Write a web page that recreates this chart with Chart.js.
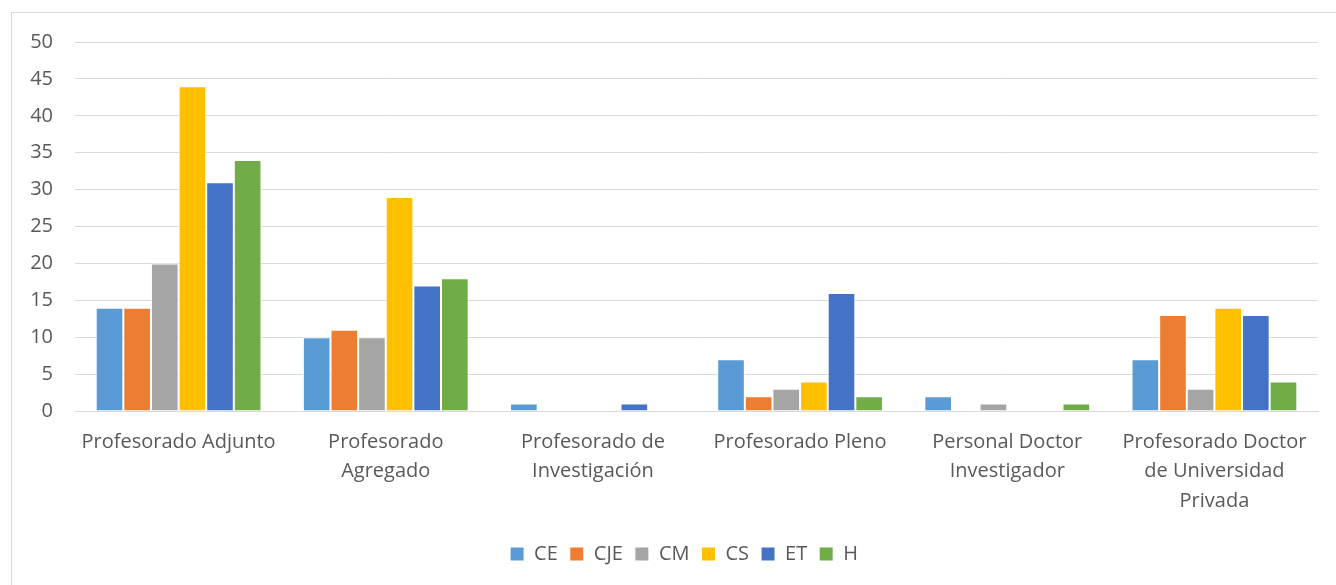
<!DOCTYPE html>
<html>
<head>
<meta charset="utf-8">
<script src="https://cdn.jsdelivr.net/npm/chart.js@4/dist/chart.umd.min.js"></script>
<style>
    html, body { margin: 0; padding: 0; background: #fff; }
    #wrap { position: relative; width: 1336px; height: 585px; overflow: hidden; }
    #frame { position: absolute; left: 11px; top: 12px; width: 1400px; height: 600px; border: 1px solid #d9d9d9; }
    canvas { position: absolute; left: 0; top: 0; }
</style>
</head>
<body>
<div id="wrap">
    <div id="frame"></div>
    <canvas id="barChart" width="1336" height="585"></canvas>
</div>
<script>
// categorias (eje x)
var categorias = [
    "Profesorado Adjunto",
    ["Profesorado", "Agregado"],
    ["Profesorado de", "Investigación"],
    "Profesorado Pleno",
    ["Personal Doctor", "Investigador"],
    ["Profesorado Doctor", "de Universidad", "Privada"]
];

// series
var serieCE  = [14, 10, 1, 7, 2, 7];
var serieCJE = [14, 11, 0, 2, 0, 13];
var serieCM  = [20, 10, 0, 3, 1, 3];
var serieCS  = [44, 29, 0, 4, 0, 14];
var serieET  = [31, 17, 1, 16, 0, 13];
var serieH   = [34, 18, 0, 2, 1, 4];

var yMax = 50;
var yPaso = 5;

var fuente = "'Open Sans', 'Noto Sans', sans-serif";
var gris = "#595959";

var serie = function (label, data, color) {
    return {
        label: label,
        data: data,
        backgroundColor: color,
        borderColor: "#fff",
        borderWidth: 1,
        barPercentage: 1,
        categoryPercentage: 0.8
    };
};

var barData = {
    labels: categorias,
    datasets: [
        serie("CE", serieCE, "#5b9bd5"),
        serie("CJE", serieCJE, "#ed7d31"),
        serie("CM", serieCM, "#a5a5a5"),
        serie("CS", serieCS, "#ffc000"),
        serie("ET", serieET, "#4472c4"),
        serie("H", serieH, "#70ad47")
    ]
};

// mover la leyenda un poco a la derecha (centrada como en Excel)
var moverLeyenda = {
    id: "moverLeyenda",
    afterLayout: function (chart) {
        chart.legend.left += 25;
        chart.legend.right += 25;
    }
};

var barOptions = {
    responsive: false,
    animation: false,
    layout: { padding: { left: 0, right: 18, top: 42, bottom: 11 } },
    plugins: {
        tooltip: { enabled: false },
        legend: {
            position: "bottom",
            labels: {
                boxWidth: 14,
                boxHeight: 14,
                padding: 12,
                color: gris,
                font: { family: fuente, size: 20 }
            }
        }
    },
    scales: {
        x: {
            grid: { display: false, drawTicks: false },
            border: { color: "#d9d9d9", width: 1 },
            ticks: {
                color: gris,
                padding: 16,
                maxRotation: 0,
                autoSkip: false,
                font: { family: fuente, size: 20, lineHeight: 1.48 }
            },
            afterFit: function (axis) { axis.height = 121; }
        },
        y: {
            min: 0,
            max: yMax,
            grid: { color: "#d9d9d9", drawTicks: false },
            border: { display: false },
            ticks: {
                stepSize: yPaso,
                color: gris,
                padding: 22,
                font: { family: fuente, size: 20 }
            },
            afterFit: function (axis) { axis.width = 75; }
        }
    }
};

var ctx = document.getElementById("barChart").getContext("2d");
new Chart(ctx, { type: "bar", data: barData, options: barOptions, plugins: [moverLeyenda] });
</script>
</body>
</html>
